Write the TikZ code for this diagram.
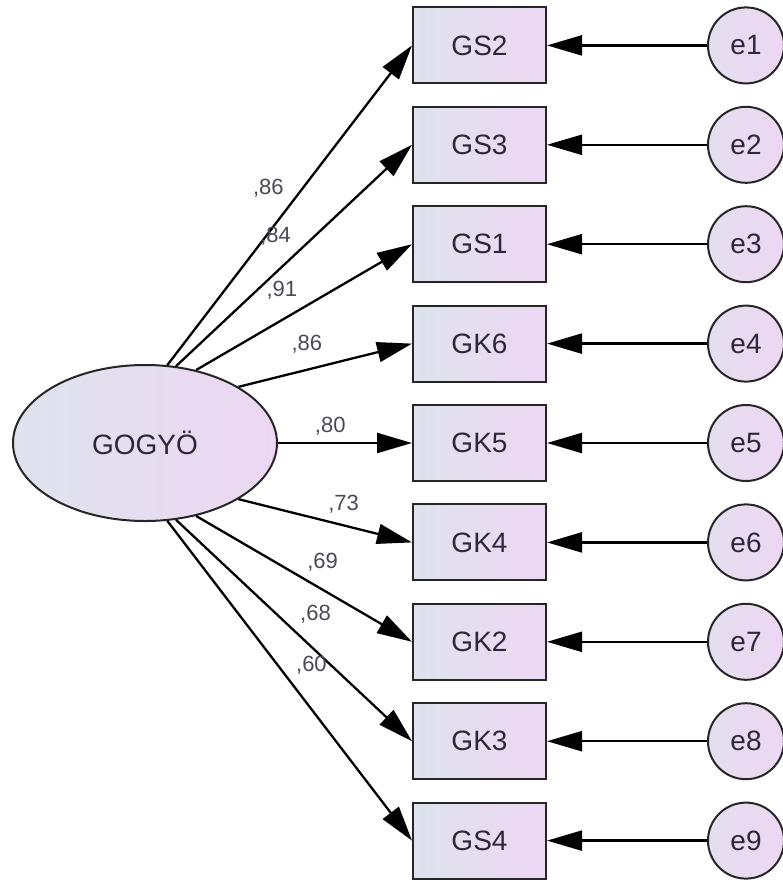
\documentclass[tikz,border=0pt]{standalone}
\usepackage{fontspec}
\setmainfont{Liberation Sans}
\usepackage{tikz}
\usetikzlibrary{shapes,arrows.meta}
\usetikzlibrary{positioning}
\definecolor{fillleft}{RGB}{222,227,238}
\definecolor{fillright}{RGB}{237,215,242}
\definecolor{ink}{RGB}{45,40,55}
\tikzstyle{box} = [rectangle, draw=black!85, line width=2pt,
    left color=fillleft, right color=fillright, text=ink,
    minimum width=133pt, minimum height=76pt,
    font=\fontsize{28}{32}\selectfont]
\tikzstyle{latent} = [ellipse, draw=black!85, line width=2pt,
    left color=fillleft, right color=fillright, text=ink,
    minimum width=264pt, minimum height=156pt, inner sep=0pt,
    font=\fontsize{28}{32}\selectfont]
\tikzstyle{err} = [circle, draw=black!85, line width=2pt,
    left color=fillleft!60!fillright, right color=fillright, text=ink,
    minimum size=76pt, inner sep=0pt,
    font=\fontsize{28}{32}\selectfont]
\tikzstyle{line} = [draw, line width=2.3pt, -{Triangle[length=35pt,width=20pt]}]
\tikzstyle{coef} = [font=\fontsize{22}{25}\selectfont, text=ink!85, inner sep=0pt]

\begin{document}
\begin{tikzpicture}[x=1pt, y=1pt, node distance=99.4pt]
  \useasboundingbox (0,0) rectangle (783,-884);
  % Place nodes
  \node [latent] (gogyo) at (145,-443) {GOGY\"O};
  \node [box, right of=gogyo, node distance=334.5pt] (GK5) {GK5};
  \node [box, above of=GK5] (GK6) {GK6};
  \node [box, above of=GK6] (GS1) {GS1};
  \node [box, above of=GS1] (GS3) {GS3};
  \node [box, above of=GS3] (GS2) {GS2};
  \node [box, below of=GK5] (GK4) {GK4};
  \node [box, below of=GK4] (GK2) {GK2};
  \node [box, below of=GK2] (GK3) {GK3};
  \node [box, below of=GK3] (GS4) {GS4};

  % error terms
  \node [err, right of=GS2, node distance=266.5pt] (e1) {e1};
  \node [err, right of=GS3, node distance=266.5pt] (e2) {e2};
  \node [err, right of=GS1, node distance=266.5pt] (e3) {e3};
  \node [err, right of=GK6, node distance=266.5pt] (e4) {e4};
  \node [err, right of=GK5, node distance=266.5pt] (e5) {e5};
  \node [err, right of=GK4, node distance=266.5pt] (e6) {e6};
  \node [err, right of=GK2, node distance=266.5pt] (e7) {e7};
  \node [err, right of=GK3, node distance=266.5pt] (e8) {e8};
  \node [err, right of=GS4, node distance=266.5pt] (e9) {e9};

  % loadings
  \path [line] (gogyo.74) -- node [coef, pos=0.552, xshift=-34pt] {,86} (GS2.west);
  \path [line] (gogyo.68) -- node [coef, pos=0.585, xshift=-38.5pt] {,84} (GS3.west);
  \path [line] (gogyo.55) -- node [coef, pos=0.638, xshift=-52pt] {,91} (GS1.west);
  \path [line] (gogyo.31) -- node [coef, pos=0.394, yshift=26pt] {,86} (GK6.west);
  \path [line] (gogyo.0) -- node [coef, pos=0.39, yshift=17pt] {,80} (GK5.west);
  \path [line] (gogyo.-31) -- node [coef, pos=0.606, yshift=21pt] {,73} (GK4.west);
  \path [line] (gogyo.-55) -- node [coef, pos=0.586, yshift=27pt] {,69} (GK2.west);
  \path [line] (gogyo.-68) -- node [coef, pos=0.591, yshift=36pt] {,68} (GK3.west);
  \path [line] (gogyo.-74) -- node [coef, pos=0.589, yshift=44pt] {,60} (GS4.west);

  % residuals
  \path [line] (e1) -- (GS2);
  \path [line] (e2) -- (GS3);
  \path [line] (e3) -- (GS1);
  \path [line] (e4) -- (GK6);
  \path [line] (e5) -- (GK5);
  \path [line] (e6) -- (GK4);
  \path [line] (e7) -- (GK2);
  \path [line] (e8) -- (GK3);
  \path [line] (e9) -- (GS4);
\end{tikzpicture}
\end{document}
